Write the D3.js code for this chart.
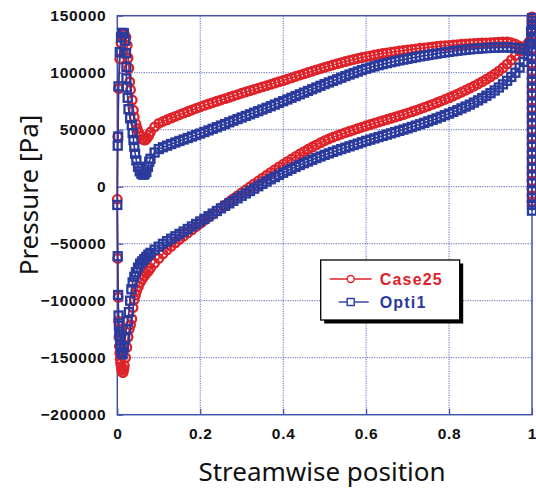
<!DOCTYPE html>
<html>
<head>
<meta charset="utf-8">
<script src="https://cdn.jsdelivr.net/npm/d3@7"></script>
<style>
  body { margin: 0; background: #fff; }
  svg { display: block; }
  .axis text { font-family: "Liberation Sans", Arial, sans-serif; font-weight: bold; font-size: 15.5px; letter-spacing: 0.7px; fill: #111; }
  .axis-title { font-family: "Noto Sans", sans-serif; font-size: 26px; fill: #111; }
  .legend-text { font-family: "Liberation Sans", Arial, sans-serif; font-weight: bold; font-size: 16px; letter-spacing: 1.2px; }
</style>
</head>
<body>
<svg id="chart"></svg>
<script>
// chord stations (streamwise position) used by the mid-chord samples
const chordX = [
  0.08, 0.09, 0.10, 0.11, 0.12, 0.13, 0.14, 0.15, 0.16, 0.17, 0.18, 0.19, 0.20,
  0.21, 0.22, 0.23, 0.24, 0.25, 0.26, 0.27, 0.28, 0.29, 0.30,
  0.31, 0.32, 0.33, 0.34, 0.35, 0.36, 0.37, 0.38, 0.39, 0.40,
  0.41, 0.42, 0.43, 0.44, 0.45, 0.46, 0.47, 0.48, 0.49, 0.50,
  0.51, 0.52, 0.53, 0.54, 0.55, 0.56, 0.57, 0.58, 0.59, 0.60,
  0.61, 0.62, 0.63, 0.64, 0.65, 0.66, 0.67, 0.68, 0.69, 0.70,
  0.71, 0.72, 0.73, 0.74, 0.75, 0.76, 0.77, 0.78, 0.79, 0.80,
  0.81, 0.82, 0.83, 0.84, 0.85, 0.86, 0.87, 0.88, 0.89, 0.90,
  0.91, 0.92, 0.93, 0.94, 0.95, 0.96, 0.97, 0.98, 0.99
];

// Case25 (red) pressure [Pa]
const case25Upper = [
  48000, 52500, 55500, 57200, 58700, 60200, 61700, 63100, 64500, 65900, 67300, 68700, 70000,
  71300, 72500, 73700, 74900, 76100, 77300, 78400, 79600, 80800, 82000,
  83100, 84200, 85300, 86500, 87600, 88700, 89800, 90900, 92000, 93100,
  94300, 95500, 96700, 97900, 99000, 100200, 101300, 102500, 103600, 104700,
  105800, 106800, 107800, 108800, 109800, 110700, 111600, 112500, 113300, 114100,
  114800, 115500, 116200, 116800, 117400, 118000, 118500, 119000, 119500, 120000,
  120500, 120900, 121400, 121800, 122200, 122600, 123000, 123400, 123700, 124000,
  124300, 124600, 124900, 125200, 125400, 125600, 125800, 126000, 126200, 126400,
  126600, 126800, 126900, 126900, 126300, 125000, 123200, 121300, 120000
];
const case25Lower = [
  -71500, -67000, -63000, -59000, -55500, -52300, -49200, -46200, -43400, -40600, -37800, -35000, -32200,
  -29400, -26700, -24000, -21300, -18600, -15900, -13200, -10500, -7900, -5300,
  -2700, -100, 2500, 5000, 7500, 10000, 12500, 14900, 17300, 19700,
  22000, 24300, 26500, 28700, 30800, 32800, 34800, 36700, 38500, 40300,
  41900, 43400, 44800, 46100, 47400, 48600, 49800, 51000, 52200, 53400,
  54500, 55600, 56700, 57800, 58900, 60000, 61100, 62200, 63300, 64500,
  65700, 66900, 68200, 69500, 70800, 72200, 73600, 75000, 76500, 78000,
  79600, 81200, 82900, 84600, 86400, 88200, 90100, 92100, 94200, 96400,
  98800, 101400, 104300, 107500, 111000, 115000, 118800, 122500, 125500
];
const case25UpperLE = [
  [0.001, 44000], [0.003, 86000], [0.006, 112000], [0.009, 126000], [0.013, 132000],
  [0.017, 133500], [0.021, 131000], [0.024, 124000], [0.026, 113000], [0.028, 104000],
  [0.030, 92000], [0.032, 85000], [0.036, 76000], [0.039, 67000], [0.041, 61000],
  [0.045, 55000], [0.048, 51000], [0.052, 47500], [0.056, 44500], [0.060, 42000],
  [0.064, 41000], [0.068, 41000], [0.072, 42500], [0.076, 45000]
];
const case25LowerLE = [
  [0.000, -11000], [0.001, -63000], [0.002, -97000], [0.003, -118000], [0.004, -132000],
  [0.005, -140000], [0.006, -146000], [0.007, -151000], [0.008, -155000], [0.010, -159000],
  [0.011, -161000], [0.013, -163000], [0.014, -163000], [0.016, -160000], [0.017, -157000],
  [0.020, -150000], [0.023, -141000], [0.026, -132000], [0.029, -125000], [0.032, -121000],
  [0.035, -116000], [0.038, -106000], [0.041, -99000], [0.044, -95000], [0.047, -91000],
  [0.051, -87500], [0.055, -84000], [0.060, -81000], [0.065, -78500], [0.070, -76000],
  [0.075, -74000]
];
const case25TE = [
  [0.995, 128000], [0.998, 138000], [1.000, 146000], [1.000, 149000], [1.000, 143000],
  [1.000, 138000], [1.000, 132000], [1.000, 127000], [1.000, 121000], [1.000, 114000],
  [1.000, 108000], [1.000, 101000], [1.000, 95000], [1.000, 88000], [1.000, 82000],
  [1.000, 75000], [1.000, 69000], [1.000, 62000], [1.000, 56000], [1.000, 50000],
  [1.000, 43000], [1.000, 37000], [1.000, 30000], [1.000, 24000], [1.000, 17000],
  [1.000, 11000], [1.000, 5000], [1.000, -2000], [1.000, -8000], [1.000, -13000]
];

// Opti1 (blue) pressure [Pa]
const opti1Upper = [
  24500, 30000, 33000, 34600, 36000, 37400, 38800, 40100, 41400, 42700, 44000, 45300, 46600,
  48000, 49400, 50800, 52200, 53600, 55000, 56500, 57900, 59300, 60700,
  62100, 63500, 64900, 66300, 67700, 69100, 70600, 72000, 73500, 75000,
  76500, 78000, 79500, 81000, 82500, 84000, 85500, 87000, 88500, 90000,
  91400, 92800, 94200, 95600, 97000, 98400, 99700, 101000, 102300, 103500,
  104600, 105600, 106600, 107500, 108400, 109200, 110000, 110800, 111500, 112200,
  112900, 113600, 114300, 114900, 115500, 116100, 116700, 117300, 117800, 118300,
  118800, 119300, 119700, 120100, 120500, 120800, 121100, 121400, 121600, 121800,
  122000, 122100, 122200, 122200, 122000, 121700, 121300, 120500, 119200
];
const opti1Lower = [
  -58000, -55200, -52600, -50100, -47800, -45600, -43500, -41400, -39300, -37100, -34900, -32700, -30500,
  -28200, -25900, -23600, -21300, -19000, -16800, -14600, -12400, -10200, -8000,
  -5900, -3800, -1700, 400, 2500, 4500, 6500, 8400, 10300, 12200,
  14000, 15700, 17400, 19000, 20600, 22100, 23600, 25100, 26500, 27900,
  29200, 30500, 31800, 33000, 34200, 35400, 36600, 37800, 39000, 40200,
  41300, 42400, 43500, 44600, 45700, 46800, 47900, 49000, 50100, 51200,
  52400, 53600, 54800, 56000, 57300, 58600, 59900, 61300, 62700, 64100,
  65600, 67100, 68700, 70300, 72000, 73800, 75700, 77700, 79800, 82000,
  84400, 87000, 89800, 92900, 96300, 100000, 104500, 109500, 115000
];
const opti1UpperLE = [
  [0.001, 36000], [0.002, 44000], [0.003, 88000], [0.006, 118000], [0.009, 131000],
  [0.012, 135000], [0.016, 134500], [0.019, 128000], [0.021, 117000], [0.022, 105000],
  [0.022, 95000], [0.023, 87000], [0.025, 78000], [0.027, 68000], [0.031, 60000],
  [0.035, 54000], [0.037, 47000], [0.039, 41000], [0.041, 35000], [0.043, 29000],
  [0.046, 23000], [0.050, 17500], [0.054, 13500], [0.058, 11500], [0.062, 10500],
  [0.066, 11000], [0.070, 13000], [0.074, 17500], [0.077, 22000]
];
const opti1LowerLE = [
  [0.000, -16000], [0.001, -61000], [0.002, -95000], [0.003, -113000], [0.004, -122000],
  [0.005, -127000], [0.006, -131000], [0.007, -135000], [0.008, -139000], [0.009, -142000],
  [0.010, -145000], [0.013, -147000], [0.016, -141000], [0.019, -133000], [0.022, -125000],
  [0.025, -118000], [0.028, -110000], [0.031, -100000], [0.034, -90000], [0.037, -84000],
  [0.041, -79000], [0.045, -75000], [0.050, -71000], [0.055, -67500], [0.060, -65500],
  [0.065, -63500], [0.070, -61500], [0.075, -59500]
];
const opti1TE = [
  [0.995, 125000], [0.998, 136000], [1.000, 145000], [1.000, 148000], [1.000, 142000],
  [1.000, 137000], [1.000, 131000], [1.000, 125000], [1.000, 119000], [1.000, 112000],
  [1.000, 106000], [1.000, 99000], [1.000, 93000], [1.000, 87000], [1.000, 80000],
  [1.000, 74000], [1.000, 67000], [1.000, 61000], [1.000, 55000], [1.000, 48000],
  [1.000, 42000], [1.000, 35000], [1.000, 29000], [1.000, 23000], [1.000, 16000],
  [1.000, 10000], [1.000, 3000], [1.000, -3000], [1.000, -10000], [1.000, -16000],
  [1.000, -21000]
];

const xTicks = [0, 0.2, 0.4, 0.6, 0.8, 1];
const xTickLabels = ['0', '0.2', '0.4', '0.6', '0.8', '1'];
const yTicks = [-200000, -150000, -100000, -50000, 0, 50000, 100000, 150000];
const seriesNames = ['Case25', 'Opti1'];

const RED = '#df2229';
const BLUE = '#2b3b9d';
const FRAME = '#4152aa';

const width = 536;
const height = 489;
const margin = {left: 117.3, top: 15.7, right: 4, bottom: 74.3};
const plotW = width - margin.left - margin.right;
const plotH = height - margin.top - margin.bottom;

// loop around the blade: upper TE->LE, leading edge stack, lower LE->TE, trailing edge column
function buildLoop(upperLE, upper, lowerLE, lower, te) {
  const up = chordX.map((x, i) => [x, upper[i]]).reverse();
  const low = chordX.map((x, i) => [x, lower[i]]);
  return up.concat(upperLE.slice().reverse(), lowerLE, low, te);
}

const svg = d3.select('#chart')
    .attr('width', width)
    .attr('height', height);

const g = svg.append('g')
    .attr('transform', 'translate(' + margin.left + ',' + margin.top + ')');

const xScale = d3.scaleLinear().domain([0, 1]).range([0, plotW]);
const yScale = d3.scaleLinear().domain([-200000, 150000]).range([plotH, 0]);

// grid
g.selectAll('.grid-x')
    .data(xTicks.slice(1, -1))
    .enter()
    .append('line')
    .attr('class', 'grid-x')
    .attr('stroke', '#5a68ba')
    .attr('stroke-dasharray', '1.2,1.2')
    .attr('x1', (d) => xScale(d))
    .attr('x2', (d) => xScale(d))
    .attr('y1', 0)
    .attr('y2', plotH);

g.selectAll('.grid-y')
    .data(yTicks.slice(1, -1))
    .enter()
    .append('line')
    .attr('class', 'grid-y')
    .attr('stroke', '#5a68ba')
    .attr('stroke-dasharray', '1.2,1.2')
    .attr('x1', 0)
    .attr('x2', plotW)
    .attr('y1', (d) => yScale(d))
    .attr('y2', (d) => yScale(d));

// axes with inward ticks
g.append('g')
    .attr('class', 'axis axis--x')
    .attr('transform', 'translate(0,' + plotH + ')')
    .call(d3.axisBottom(xScale)
        .tickValues(xTicks)
        .tickFormat((d, i) => xTickLabels[i])
        .tickSize(-6)
        .tickPadding(13));

g.append('g')
    .attr('class', 'axis axis--y')
    .call(d3.axisLeft(yScale)
        .tickValues(yTicks)
        .tickFormat(d3.format('d'))
        .tickSize(-6)
        .tickPadding(11));

g.selectAll('.axis .domain').remove();
g.selectAll('.axis line').attr('stroke', FRAME).attr('stroke-width', 1.2);

g.append('rect')
    .attr('x', 0)
    .attr('y', 0)
    .attr('width', plotW)
    .attr('height', plotH)
    .attr('fill', 'none')
    .attr('stroke', FRAME)
    .attr('stroke-width', 1.5);

// series
const line = d3.line()
    .x((d) => xScale(d[0]))
    .y((d) => yScale(d[1]));

const case25 = buildLoop(case25UpperLE, case25Upper, case25LowerLE, case25Lower, case25TE);
const opti1 = buildLoop(opti1UpperLE, opti1Upper, opti1LowerLE, opti1Lower, opti1TE);

g.append('path')
    .datum(case25)
    .attr('fill', 'none')
    .attr('stroke', RED)
    .attr('stroke-width', 1.6)
    .attr('d', line);

g.selectAll('.pt-case25')
    .data(case25)
    .enter()
    .append('circle')
    .attr('class', 'pt-case25')
    .attr('fill', 'none')
    .attr('stroke', RED)
    .attr('stroke-width', 2.3)
    .attr('r', 4.3)
    .attr('cx', (d) => xScale(d[0]))
    .attr('cy', (d) => yScale(d[1]));

g.append('path')
    .datum(opti1)
    .attr('fill', 'none')
    .attr('stroke', BLUE)
    .attr('stroke-width', 1.6)
    .attr('d', line);

g.selectAll('.pt-opti1')
    .data(opti1)
    .enter()
    .append('rect')
    .attr('class', 'pt-opti1')
    .attr('fill', 'none')
    .attr('stroke', BLUE)
    .attr('stroke-width', 2.3)
    .attr('width', 8)
    .attr('height', 8)
    .attr('x', (d) => xScale(d[0]) - 4)
    .attr('y', (d) => yScale(d[1]) - 4);

// titles
svg.append('text')
    .attr('class', 'axis-title')
    .attr('x', 322)
    .attr('y', 481)
    .attr('text-anchor', 'middle')
    .text('Streamwise position');

svg.append('text')
    .attr('class', 'axis-title')
    .attr('transform', 'translate(38,195) rotate(-90)')
    .attr('text-anchor', 'middle')
    .text('Pressure [Pa]');

// legend
const legend = svg.append('g').attr('transform', 'translate(320.7,260)');
legend.append('rect')
    .attr('x', 3.5).attr('y', 3.5)
    .attr('width', 139).attr('height', 60)
    .attr('fill', '#000');
legend.append('rect')
    .attr('x', 0).attr('y', 0)
    .attr('width', 139).attr('height', 60)
    .attr('fill', '#fff')
    .attr('stroke', '#000')
    .attr('stroke-width', 1.3);

legend.append('line')
    .attr('x1', 9).attr('x2', 51).attr('y1', 19).attr('y2', 19)
    .attr('stroke', RED).attr('stroke-width', 1.4);
legend.append('circle')
    .attr('cx', 30).attr('cy', 19).attr('r', 3.5)
    .attr('fill', '#fff').attr('stroke', RED).attr('stroke-width', 1.4);
legend.append('line')
    .attr('x1', 18).attr('x2', 48).attr('y1', 42).attr('y2', 42)
    .attr('stroke', BLUE).attr('stroke-width', 1.4);
legend.append('rect')
    .attr('x', 26.5).attr('y', 38.5).attr('width', 7).attr('height', 7)
    .attr('fill', '#fff').attr('stroke', BLUE).attr('stroke-width', 1.4);

legend.selectAll('.legend-text')
    .data(seriesNames)
    .enter()
    .append('text')
    .attr('class', 'legend-text')
    .attr('x', 59)
    .attr('y', (d, i) => 25 + i * 23)
    .attr('fill', (d, i) => i === 0 ? RED : BLUE)
    .text((d) => d);
</script>
</body>
</html>
